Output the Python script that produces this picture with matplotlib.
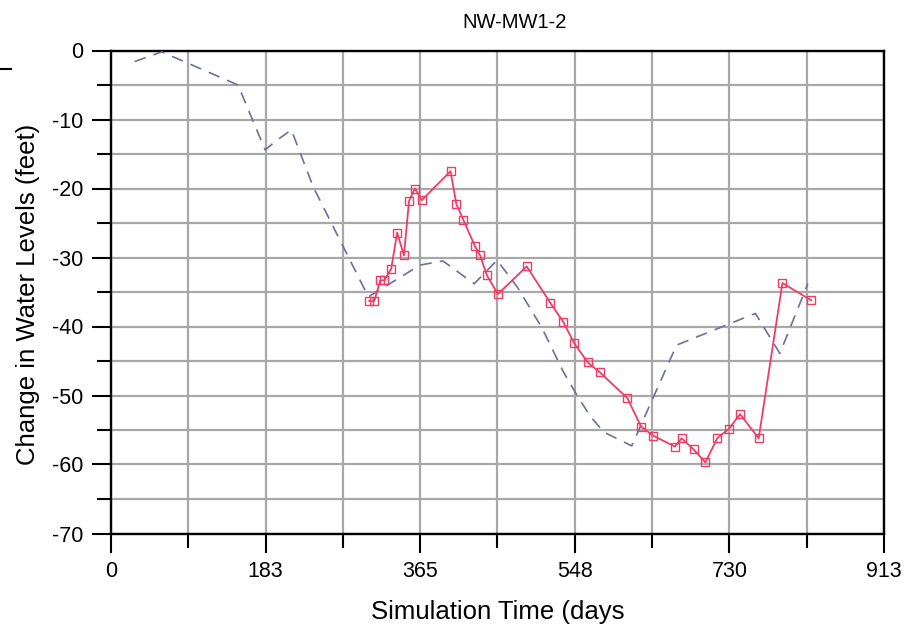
import numpy as np
import matplotlib
matplotlib.use("Agg")
import matplotlib.pyplot as plt
from matplotlib.lines import Line2D

plt.rcParams['font.family'] = ['Liberation Sans', 'DejaVu Sans']

# Observed water-level change (days, feet)
obs_days = [305, 311, 318, 323, 331, 338, 346, 352, 359, 367, 401, 408, 416, 430,
            436, 444, 457, 491, 519, 534, 547, 563, 577, 610, 626, 640, 666, 674,
            688, 702, 716, 730, 743, 765, 793, 827]
obs_change = [-36.3, -36.3, -33.3, -33.3, -31.6, -26.4, -29.7, -21.8, -20.0, -21.7,
              -17.5, -22.3, -24.5, -28.4, -29.7, -32.6, -35.3, -31.3, -36.6, -39.3,
              -42.4, -45.2, -46.6, -50.4, -54.5, -55.8, -57.4, -56.2, -57.8, -59.7,
              -56.2, -54.8, -52.7, -56.2, -33.7, -36.2]

# Simulated water-level change (days, feet)
sim_days = [28, 60, 150, 182, 196, 213, 239, 304, 365, 392, 429, 456, 480, 509,
            534, 550, 566, 582, 615, 668, 761, 790, 823]
sim_change = [-1.6, -0.2, -5.0, -14.4, -13.0, -11.5, -19.8, -35.7, -31.1, -30.5,
              -33.8, -30.4, -34.3, -40.2, -46.5, -49.9, -53.0, -55.3, -57.3, -42.7,
              -38.1, -43.9, -33.8]

x_tick_labels = ["0", "183", "365", "548", "730", "913"]
y_tick_values = [0, -10, -20, -30, -40, -50, -60, -70]

title = "NW-MW1-2"
x_label = "Simulation Time (days"
y_label = "Change in Water Levels (feet)"

fig = plt.figure(figsize=(9.07, 6.33), dpi=100)
ax = fig.add_axes([111 / 907, 1 - 533.5 / 633, 773 / 907, 483 / 633])

x_max = 913
ax.set_xlim(0, x_max)
ax.set_ylim(-70, 0)

x_major = np.linspace(0, x_max, len(x_tick_labels))
x_minor = (x_major[:-1] + x_major[1:]) / 2
ax.set_xticks(x_major)
ax.set_xticklabels(x_tick_labels)
ax.set_xticks(x_minor, minor=True)
ax.set_yticks(y_tick_values)
ax.set_yticklabels([str(v) for v in y_tick_values])
ax.set_yticks(np.arange(-65, 0, 10), minor=True)

grid_kw = dict(color="#a8a8a8", linewidth=1.6)
ax.grid(True, which="both", **grid_kw)
ax.set_axisbelow(True)

ax.tick_params(axis="both", which="major", direction="out", length=14, width=1.5,
               labelsize=15.5, colors="black", pad=6)
ax.tick_params(axis="both", which="minor", direction="out", length=10, width=1.5)
for s in ax.spines.values():
    s.set_linewidth(1.7)
    s.set_color("black")

ax.plot(sim_days, sim_change, color="#6d6f9c", linewidth=1.2, dashes=(7, 5), zorder=3)
ax.plot(obs_days, obs_change, color="#f03c64", linewidth=1.3, marker="s",
        markersize=6.3, markerfacecolor="none", markeredgecolor="#f03c64",
        markeredgewidth=1.0, zorder=4)

fig.text(515 / 907, 1 - 22 / 633, title, ha="center", va="center", fontsize=14.5)
fig.text(498 / 907, 1 - 612 / 633, x_label, ha="center", va="center", fontsize=18.5)
fig.text(28 / 907, 1 - 294 / 633, y_label, ha="center", va="center", fontsize=18.5,
         rotation=90)

# short stray stroke at the upper left edge
fig.add_artist(Line2D([0, 11 / 907], [1 - 69 / 633, 1 - 69 / 633],
                      color="black", linewidth=1.5, transform=fig.transFigure))

fig.savefig("out.png", dpi=100)
